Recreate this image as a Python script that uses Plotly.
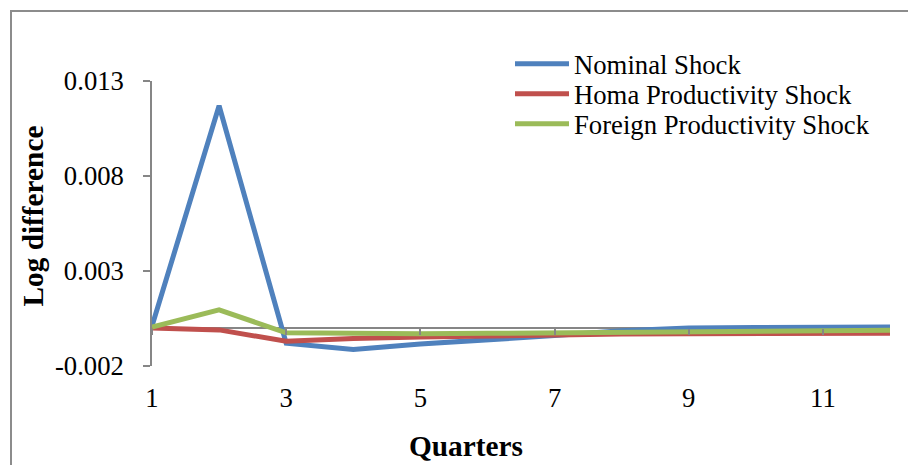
import plotly.graph_objects as go

# Impulse responses (log difference) over 12 quarters
quarters = list(range(1, 13))
nominal = [0.0001, 0.0117, -0.0008, -0.00113, -0.00084, -0.00065,
           -0.0004, -0.00015, 0.0, 0.00003, 0.00004, 0.00005]
home_prod = [0.0, -0.0001, -0.0007, -0.00055, -0.00047, -0.0004,
             -0.00035, -0.00032, -0.0003, -0.00029, -0.00028, -0.00027]
foreign_prod = [0.00005, 0.00095, -0.00025, -0.0003, -0.0003, -0.00028,
                -0.00025, -0.0002, -0.00018, -0.00015, -0.00013, -0.00012]

series_names = ["Nominal Shock", "Homa Productivity Shock", "Foreign Productivity Shock"]
series_values = [nominal, home_prod, foreign_prod]
series_colors = ["#4F81BD", "#C0504D", "#9BBB59"]
# last series sits on the overlay axis that also carries the zero-line ticks
series_xaxes = ["x", "x", "x2"]

y_ticks = [-0.002, 0.003, 0.008, 0.013]
y_ticktext = ["-0.002", "0.003", "0.008", "0.013"]
x_ticks = [1, 3, 5, 7, 9, 11]
x_ticktext = ["1", "3", "5", "7", "9", "11"]

W, H = 908, 465
ML, MR, MT, MB = 152, 18, 81, 99
PW, PH = W - ML - MR, H - MT - MB
Y_MIN, Y_MAX = -0.002, 0.013

FONT = "Liberation Serif"
AXIS_GREY = "#868686"
TICK_SIZE = 26.7
TITLE_SIZE = 29.3


def px_x(p):
    return (p - ML) / PW


def px_y(p):
    return (H - MB - p) / PH


fig = go.Figure()
legend_rows = [64, 94, 124]
legend_keys = ["legend", "legend2", "legend3"]
for name, vals, col, key, xa in zip(series_names, series_values, series_colors,
                                    legend_keys, series_xaxes):
    fig.add_trace(go.Scatter(
        x=quarters, y=vals, mode="lines", name=name,
        line=dict(color=col, width=5),
        legend=key, xaxis=xa, yaxis="y",
    ))

legend_common = dict(
    font=dict(family=FONT, size=TICK_SIZE, color="black"),
    bgcolor="rgba(0,0,0,0)", borderwidth=0,
    xanchor="left", yanchor="middle", itemwidth=54,
    x=px_x(510),
)
layout_legends = {}
for key, row in zip(legend_keys, legend_rows):
    layout_legends[key] = dict(legend_common, y=px_y(row))

# overlay axis positioned on the zero line, drawing only its tick marks
zero_pos = (0 - Y_MIN) / (Y_MAX - Y_MIN)

fig.update_layout(
    width=W, height=H,
    margin=dict(l=ML, r=MR, t=MT, b=MB, pad=0),
    paper_bgcolor="white", plot_bgcolor="white",
    font=dict(family=FONT, size=TICK_SIZE, color="black"),
    showlegend=True,
    xaxis=dict(
        range=[1, 12], tickvals=x_ticks, ticktext=x_ticktext,
        showline=False, showgrid=False, zeroline=False, ticks="",
        tickfont=dict(family=FONT, size=TICK_SIZE, color="black"),
        ticklabelstandoff=13,
    ),
    xaxis2=dict(
        range=[1, 12], overlaying="x", anchor="free", position=zero_pos,
        side="bottom", tickvals=x_ticks, showticklabels=False,
        showline=False, showgrid=False, zeroline=False,
        ticks="outside", ticklen=6, tickwidth=1.5, tickcolor=AXIS_GREY,
    ),
    yaxis=dict(
        range=[Y_MIN, Y_MAX], tickvals=y_ticks, ticktext=y_ticktext,
        showline=True, linecolor=AXIS_GREY, linewidth=1.5,
        ticks="outside", ticklen=7, tickwidth=1.5, tickcolor=AXIS_GREY,
        showgrid=False, zeroline=True, zerolinecolor=AXIS_GREY, zerolinewidth=1.5,
        tickfont=dict(family=FONT, size=TICK_SIZE, color="black"),
        ticklabelstandoff=14,
    ),
    **layout_legends,
)

# outer chart frame
fig.add_shape(
    type="rect", xref="paper", yref="paper",
    x0=px_x(11), x1=px_x(W + 40), y0=px_y(H + 40), y1=px_y(11),
    line=dict(color="#8C8C8C", width=2), fillcolor="rgba(0,0,0,0)", layer="below",
)

fig.add_annotation(
    text="<b>Log difference</b>", xref="paper", yref="paper",
    x=px_x(32.5), y=px_y(216), xanchor="center", yanchor="middle",
    textangle=-90, showarrow=False,
    font=dict(family=FONT, size=TITLE_SIZE, color="black"),
)
fig.add_annotation(
    text="<b>Quarters</b>", xref="paper", yref="paper",
    x=px_x(466), y=px_y(446), xanchor="center", yanchor="middle",
    showarrow=False,
    font=dict(family=FONT, size=TITLE_SIZE, color="black"),
)

fig.write_html("out.html")
